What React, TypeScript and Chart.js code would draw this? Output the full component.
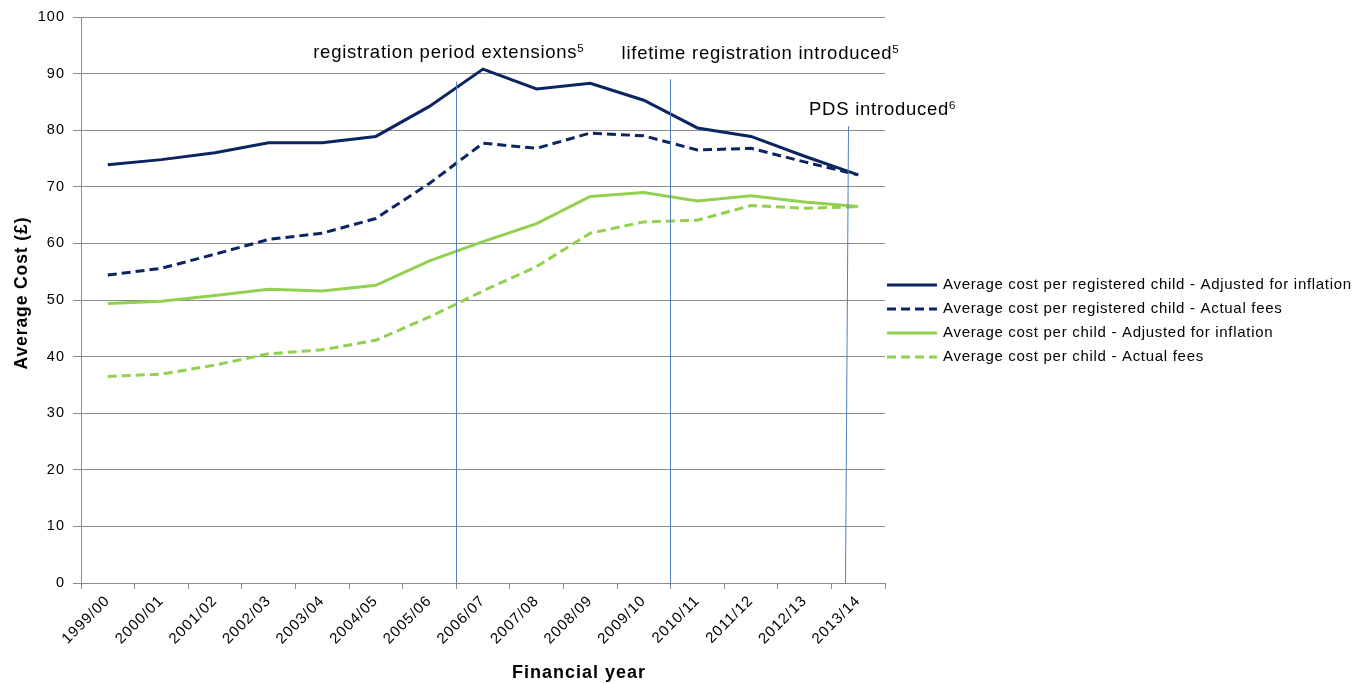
import React, { useEffect, useRef } from 'react';
import { Chart, registerables } from 'chart.js';

Chart.register(...registerables);

const categories = [
  '1999/00', '2000/01', '2001/02', '2002/03', '2003/04', '2004/05', '2005/06', '2006/07',
  '2007/08', '2008/09', '2009/10', '2010/11', '2011/12', '2012/13', '2013/14',
];

const seriesLabels = [
  'Average cost per registered child - Adjusted for inflation',
  'Average cost per registered child - Actual fees',
  'Average cost per child - Adjusted for inflation',
  'Average cost per child - Actual fees',
];

const regAdjusted = [73.9, 74.8, 76.0, 77.8, 77.8, 78.9, 84.2, 90.8, 87.3, 88.3, 85.3, 80.4, 78.9, 75.4, 72.1];
const regActual = [54.4, 55.6, 58.1, 60.7, 61.8, 64.4, 70.6, 77.7, 76.8, 79.5, 79.0, 76.5, 76.8, 74.4, 72.1];
const childAdjusted = [49.4, 49.8, 50.8, 51.9, 51.6, 52.6, 56.9, 60.3, 63.5, 68.3, 69.0, 67.5, 68.4, 67.3, 66.5];
const childActual = [36.5, 36.9, 38.5, 40.5, 41.2, 42.9, 47.0, 51.6, 55.9, 61.8, 63.8, 64.1, 66.7, 66.2, 66.5];

const yTicks = [0, 10, 20, 30, 40, 50, 60, 70, 80, 90, 100];

const yTitle = 'Average Cost (£)';
const xTitle = 'Financial year';

const annotationTexts = ['registration period extensions', 'lifetime registration introduced', 'PDS introduced'];
const annotationNotes = ['5', '5', '6'];
const annotationXTop = [6.5, 10.48, 13.81];
const annotationXBottom = [6.5, 10.48, 13.75];
const annotationTopValue = [88.6, 89.0, 80.7];
const annotationTextValue = [92.7, 92.5, 82.6];
const annotationTextShift = [-143, -48, -39];

const FONT = '"Liberation Sans", Arial, sans-serif';
const NAVY = '#0C2461';
const GREEN = '#92D050';
const GRID = '#8C8C8C';
const ANNOT = '#4F81BD';

const overlay = {
  id: 'overlay',
  beforeDraw(chart: any) {
    (chart.ctx as any).letterSpacing = '1px';
  },
  beforeDatasetsDraw(chart: any) {
    (chart.ctx as any).letterSpacing = '0px';
  },
  afterDatasetsDraw(chart: any) {
    const { ctx, scales } = chart;
    const x = scales.x;
    const y = scales.y;
    ctx.save();
    ctx.strokeStyle = ANNOT;
    ctx.lineWidth = 1;
    annotationXTop.forEach((v, i) => {
      const xt = Math.round(x.getPixelForValue(v)) + 0.5;
      const xb = Math.round(x.getPixelForValue(annotationXBottom[i])) + 0.5;
      ctx.beginPath();
      ctx.moveTo(xt, y.getPixelForValue(annotationTopValue[i]));
      ctx.lineTo(xb, y.getPixelForValue(0));
      ctx.stroke();
    });
    ctx.restore();
  },
  afterDraw(chart: any) {
    const { ctx, scales } = chart;
    const x = scales.x;
    const y = scales.y;
    ctx.save();
    ctx.fillStyle = '#000';
    ctx.textBaseline = 'alphabetic';
    ctx.textAlign = 'left';
    (ctx as any).letterSpacing = '0.75px';
    annotationTexts.forEach((t, i) => {
      const px = x.getPixelForValue(annotationXTop[i]) + annotationTextShift[i];
      const py = y.getPixelForValue(annotationTextValue[i]);
      ctx.font = `18.5px ${FONT}`;
      ctx.fillText(t, px, py);
      const w = ctx.measureText(t).width;
      ctx.font = `11.5px ${FONT}`;
      ctx.fillText(annotationNotes[i], px + w, py - 6);
    });

    // legend
    const lx = 887;
    const ly = 285;
    const step = 24;
    (ctx as any).letterSpacing = '0.7px';
    chart.data.datasets.forEach((ds: any, i: number) => {
      const cy = ly + i * step;
      ctx.save();
      ctx.strokeStyle = ds.borderColor;
      ctx.lineWidth = 3;
      ctx.setLineDash(ds.borderDash || []);
      ctx.beginPath();
      ctx.moveTo(lx, cy);
      ctx.lineTo(lx + 50, cy);
      ctx.stroke();
      ctx.restore();
      ctx.font = `15px ${FONT}`;
      ctx.textBaseline = 'middle';
      ctx.textAlign = 'left';
      ctx.fillStyle = '#000';
      ctx.fillText(ds.label, lx + 56, cy);
    });

    // axis titles
    (ctx as any).letterSpacing = '1px';
    ctx.font = `bold 18px ${FONT}`;
    ctx.textAlign = 'center';
    ctx.textBaseline = 'middle';
    ctx.fillText(xTitle, 579, 673);

    (ctx as any).letterSpacing = '0.9px';
    ctx.font = `bold 17.5px ${FONT}`;
    ctx.translate(22, 293);
    ctx.rotate(-Math.PI / 2);
    ctx.fillText(yTitle, 0, 0);
    ctx.restore();
    (ctx as any).letterSpacing = '0px';
  },
};

export default function App() {
  const ref = useRef<HTMLCanvasElement | null>(null);

  useEffect(() => {
    document.body.style.margin = '0';
    if (!ref.current) return;
    const chart = new Chart(ref.current, {
      type: 'line',
      data: {
        labels: categories,
        datasets: [
          { label: seriesLabels[0], data: regAdjusted, borderColor: NAVY, backgroundColor: NAVY, borderWidth: 3, pointRadius: 0, tension: 0 },
          { label: seriesLabels[1], data: regActual, borderColor: NAVY, backgroundColor: NAVY, borderWidth: 3, borderDash: [9, 5], pointRadius: 0, tension: 0 },
          { label: seriesLabels[2], data: childAdjusted, borderColor: GREEN, backgroundColor: GREEN, borderWidth: 3, pointRadius: 0, tension: 0 },
          { label: seriesLabels[3], data: childActual, borderColor: GREEN, backgroundColor: GREEN, borderWidth: 3, borderDash: [9, 5], pointRadius: 0, tension: 0 },
        ],
      },
      options: {
        responsive: false,
        animation: false,
        devicePixelRatio: 1,
        layout: { padding: { top: 17, right: 485, left: 0, bottom: 0 } },
        plugins: {
          legend: { display: false },
          tooltip: { enabled: false },
        },
        scales: {
          x: {
            type: 'category',
            offset: true,
            grid: { offset: true, drawOnChartArea: false, drawTicks: true, tickLength: 6, color: GRID },
            border: { color: GRID, width: 1 },
            ticks: {
              autoSkip: false,
              minRotation: 45,
              maxRotation: 45,
              padding: 3,
              color: '#000',
              font: { family: FONT, size: 15 },
            },
            afterFit(scale: any) { scale.height = 101; },
          },
          y: {
            min: 0,
            max: 100,
            afterBuildTicks(scale: any) { scale.ticks = yTicks.map((v) => ({ value: v })); },
            grid: { color: GRID, tickLength: 8 },
            border: { color: GRID, width: 1 },
            ticks: { padding: 8, color: '#000', font: { family: FONT, size: 14.5 } },
            title: { display: false },
            afterFit(scale: any) { scale.width = 81; },
          },
        },
      },
      plugins: [overlay],
    } as any);
    return () => chart.destroy();
  }, []);

  return (
    <div style={{ width: 1370, height: 684 }}>
      <canvas ref={ref} width={1370} height={684} style={{ display: 'block' }} />
    </div>
  );
}
